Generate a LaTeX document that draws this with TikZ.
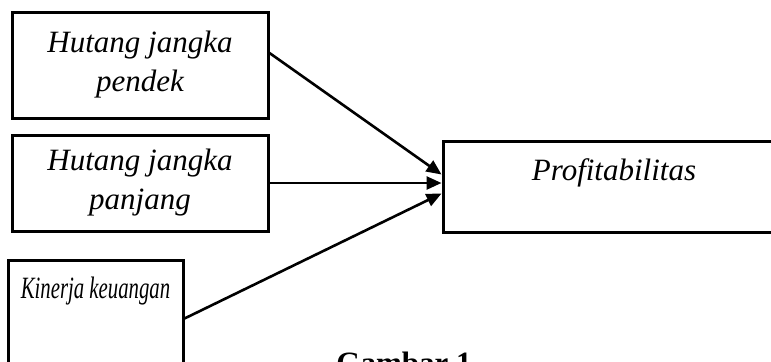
\documentclass[tikz,border=0pt]{standalone}
\usepackage{fontspec}
\setmainfont{Liberation Serif}
\usetikzlibrary{arrows.meta}
\tikzset{
    box/.style={
           rectangle,
           draw=black, line width=1.5pt,
           inner sep=0pt,
           text centered,
           font=\fontsize{15.5}{19.5}\selectfont\itshape,
           },
}
\begin{document}
\begin{tikzpicture}[x=0.5pt, y=-0.5pt, >={Triangle[length=7.5pt,width=6.5pt]}]
    \useasboundingbox (0,0) rectangle (771,361);

    % variables on the left
    \node[box, align=center,	% layout (defined above)
    minimum width=128pt, minimum height=53pt] (pendek)
    at (140,65) {Hutang jangka\\pendek};

    \node[box, align=center,
    minimum width=128pt, minimum height=48pt] (panjang)
    at (140,183) {Hutang jangka\\panjang};

    \node[box,
    minimum width=87.5pt, text height=19pt, text depth=45pt,
    anchor=north] (kinerja) 	% box runs past the bottom edge
    at (95.5,259) {\scalebox{0.67}[1]{Kinerja keuangan}};

    % variable on the right
    \node[box,
    minimum width=171pt, text height=19.5pt, text depth=26pt,
    anchor=north] (profit)
    at (614,140) {Profitabilitas};

    % draw the arrows into the right box
    \path[line width=1.3pt]
        ([yshift=6pt]pendek.east)  edge[->] ([yshift=6.25pt]profit.west)
        (panjang.east) edge[->] (panjang.east -| profit.west)
        ([yshift=3pt]kinerja.east) edge[->] ([yshift=-3.25pt]profit.west);

    % caption, cut by the lower edge
    \node[font=\fontsize{15.5}{19.5}\selectfont\bfseries, anchor=base] (caption)
    at (404,373) {Gambar 1};
\end{tikzpicture}
\end{document}
